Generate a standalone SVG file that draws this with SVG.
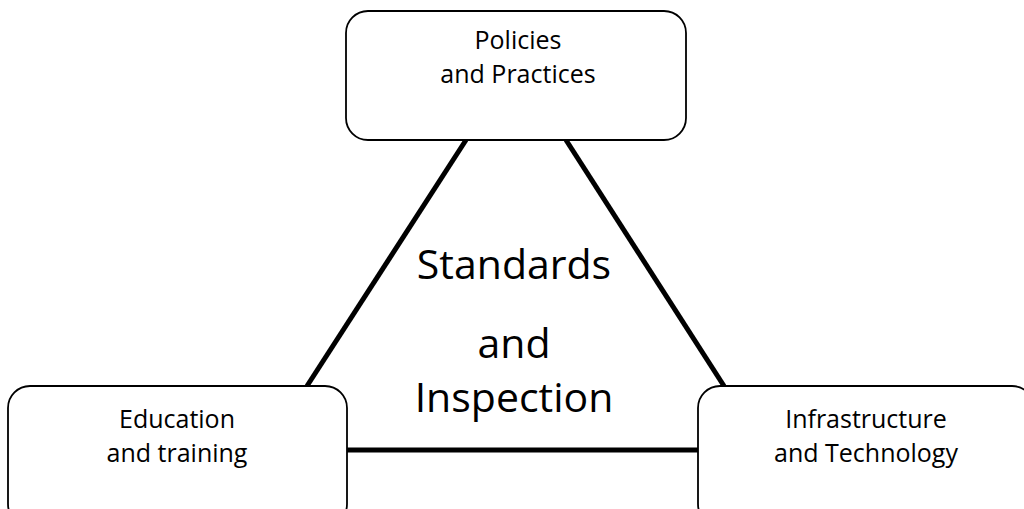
<svg xmlns="http://www.w3.org/2000/svg" width="1024" height="509" viewBox="0 0 1024 509">
<style>
.box{fill:#fff;stroke:#000;stroke-width:1.8}
.lbl{font-family:"Open Sans","Liberation Sans",sans-serif;font-size:25px;fill:#000;text-anchor:middle}
.big{font-family:"Open Sans","Liberation Sans",sans-serif;font-size:41px;fill:#000;text-anchor:middle}
.con{stroke:#000;stroke-width:5;fill:none}
</style>
<rect width="1024" height="509" fill="#fff"/>
<g id="connectors">
<line class="con" x1="466" y1="140" x2="307" y2="386"/>
<line class="con" x1="566" y1="140" x2="724" y2="386"/>
<line class="con" x1="347" y1="450" x2="698" y2="450"/>
</g>
<g id="center">
<text class="big" x="514" y="279">Standards</text>
<text class="big" x="514" y="358">and</text>
<text class="big" x="514" y="412">Inspection</text>
</g>
<g id="policies">
<rect class="box" x="346" y="11" width="340" height="129" rx="22"/>
<text class="lbl" x="518" y="49">Policies</text>
<text class="lbl" x="518" y="83">and Practices</text>
</g>
<g id="education">
<rect class="box" x="8" y="386" width="339" height="140" rx="22"/>
<text class="lbl" x="177" y="428">Education</text>
<text class="lbl" x="177" y="462">and training</text>
</g>
<g id="infrastructure">
<rect class="box" x="698" y="386" width="336" height="140" rx="22"/>
<text class="lbl" x="866" y="428">Infrastructure</text>
<text class="lbl" x="866" y="462">and Technology</text>
</g>
</svg>
